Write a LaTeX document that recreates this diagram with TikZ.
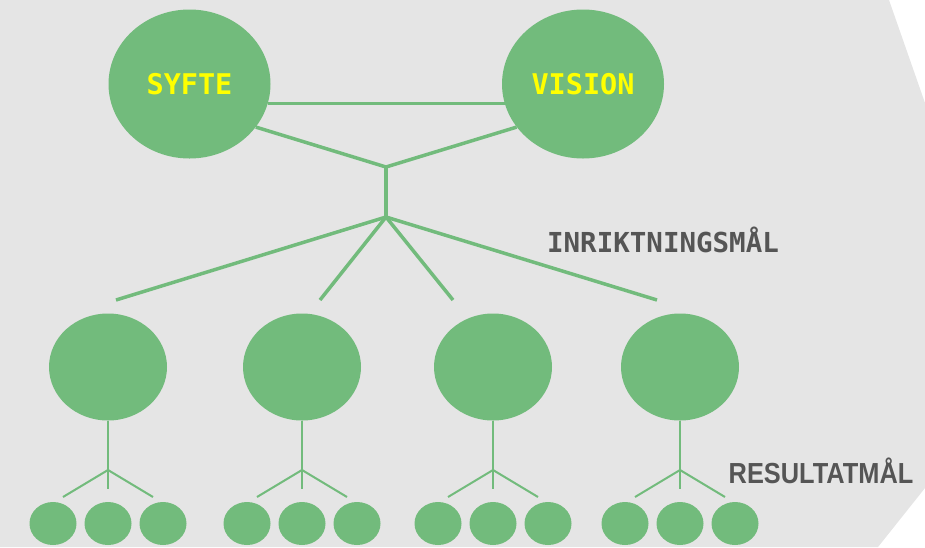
\documentclass[tikz,border=0pt]{standalone}
\usepackage{fontspec}
\setmonofont{DejaVu Sans Mono}
\newfontfamily\labelsans{Liberation Sans}
\usetikzlibrary{shapes.geometric}
\definecolor{leaf}{HTML}{72BB7C}
\definecolor{bg}{HTML}{E5E5E5}
\definecolor{txtyellow}{HTML}{FFFF00}
\definecolor{txtgray}{HTML}{555555}
\tikzset{
  bigoval/.style={ellipse, fill=leaf, draw=none, inner sep=0pt, minimum width=162pt, minimum height=149pt,
    font=\fontsize{28.5pt}{30pt}\selectfont\ttfamily\bfseries, text=txtyellow},
  midoval/.style={ellipse, fill=leaf, draw=none, inner sep=0pt, minimum width=118pt, minimum height=107pt},
  smalloval/.style={ellipse, fill=leaf, draw=none, inner sep=0pt, minimum width=47pt, minimum height=43pt},
  thickline/.style={draw=leaf, line width=3.5pt},
  thinline/.style={draw=leaf, line width=2pt},
  graylabel/.style={text=txtgray, inner sep=0pt, anchor=base}
}
\begin{document}
\begin{tikzpicture}[x=1pt,y=-1pt]
\useasboundingbox (0,0) rectangle (925,547);
\fill[bg] (0,0) -- (889,0) -- (925,103) -- (925,488) -- (878,547) -- (0,547) -- cycle;

% top level
\node[bigoval] (syfte) at (189.5,84) {SYFTE};
\node[bigoval] (vision) at (583,84) {VISION};
\coordinate (j1) at (386,167);
\coordinate (j2) at (386,217);
\draw[thickline] (syfte.-14.4) -- (vision.194.4);
\draw[thickline] (syfte.-33.7) -- (j1);
\draw[thickline] (vision.213.7) -- (j1);
\draw[thickline] (j1) -- (j2);
\coordinate (e1) at (116,300);
\coordinate (e2) at (320,300);
\coordinate (e3) at (453,300);
\coordinate (e4) at (657,300);
\foreach \e in {e1,e2,e3,e4} \draw[thickline] (j2) -- (\e);

\node[graylabel, font=\fontsize{27.5pt}{29pt}\selectfont\ttfamily\bfseries] (inr) at (663,252) {INRIKTNINGSMÅL};
\node[graylabel, font=\fontsize{29pt}{31pt}\selectfont\labelsans\bfseries] (res) at (821,483) {\scalebox{0.875}[1]{RESULTATMÅL}};

% groups
\foreach \i/\x in {1/108,2/302,3/493,4/680}{
  \node[midoval] (m\i) at (\x,367) {};
  \coordinate (f\i) at (\x,470);
  \coordinate (s\i) at (\x,489);
  \coordinate (l\i) at (\x-45,497);
  \coordinate (r\i) at (\x+45,497);
  \draw[thinline] (m\i.south) -- (s\i);
  \draw[thinline] (l\i) -- (f\i) -- (r\i);
  \node[smalloval] (a\i) at (\x-55,523.5) {};
  \node[smalloval] (b\i) at (\x,523.5) {};
  \node[smalloval] (c\i) at (\x+55,523.5) {};
}
\end{tikzpicture}
\end{document}
